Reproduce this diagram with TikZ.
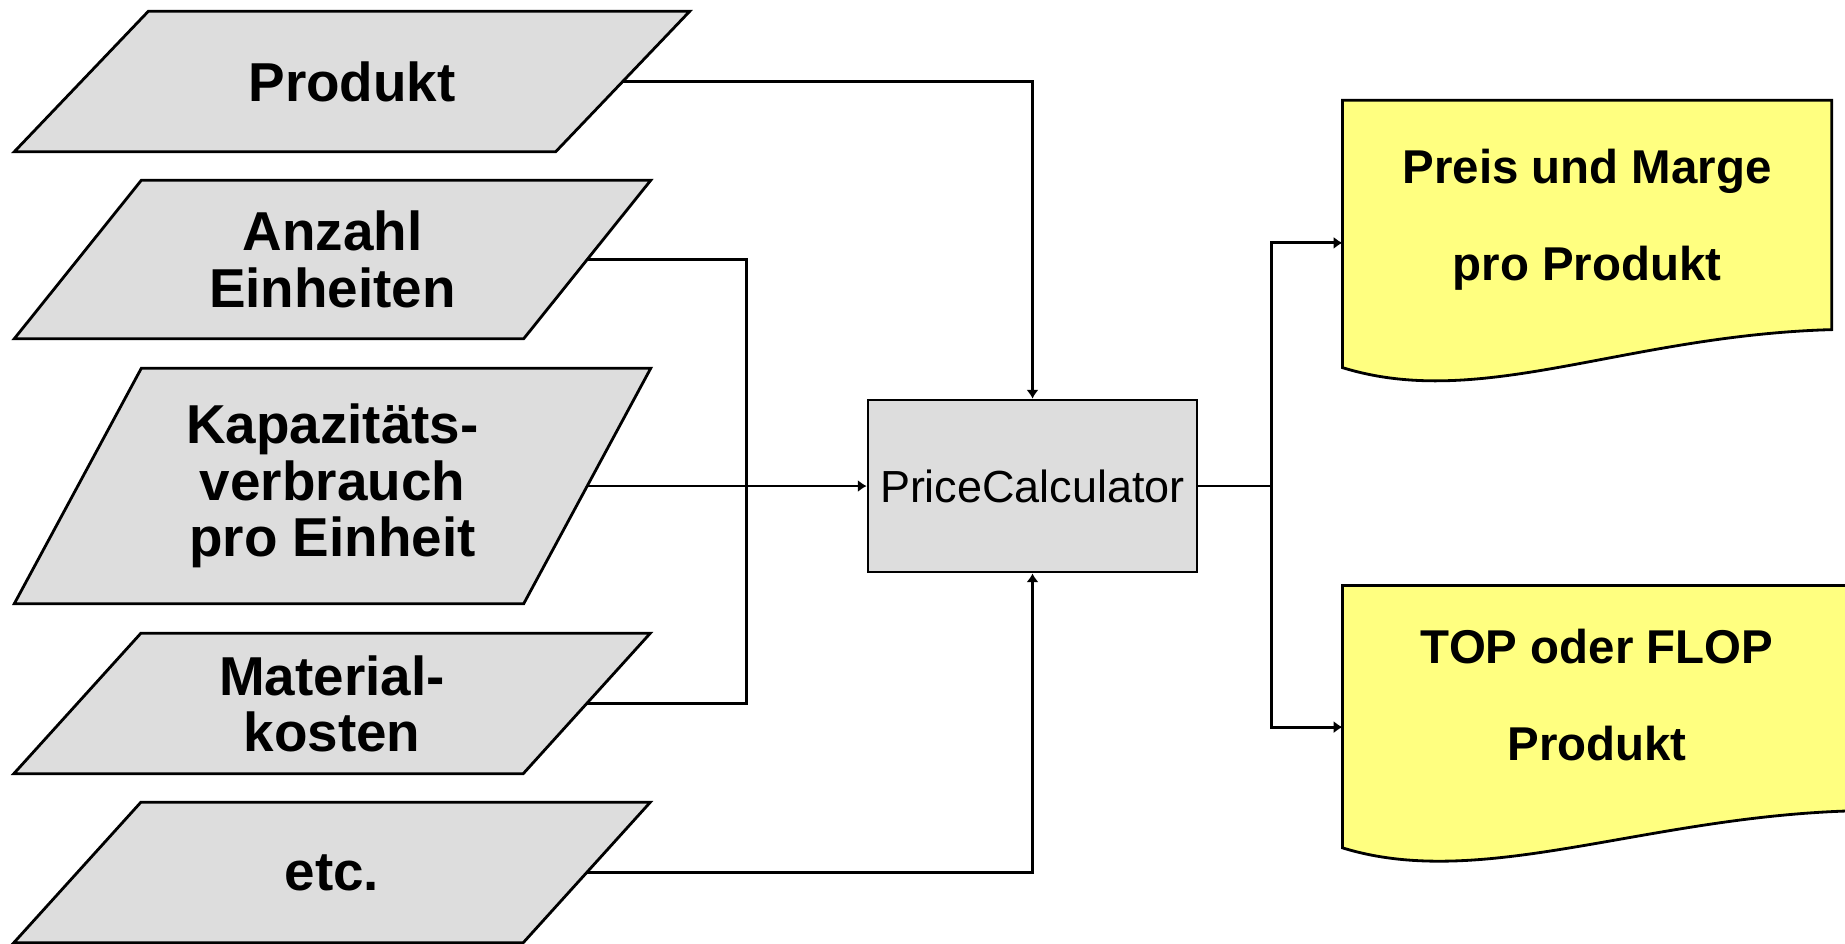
\documentclass[tikz,border=0pt]{standalone}
\usepackage{fontspec}
\setmainfont{Liberation Sans}
\usetikzlibrary{arrows.meta, positioning, backgrounds}
\definecolor{inputgray}{HTML}{DDDDDD}
\definecolor{docyellow}{HTML}{FFFF80}

\begin{document}
\begin{tikzpicture}[
    input/.style={
        rectangle, inner sep=0pt, minimum width=5.08cm,
        align=center, font=\fontsize{15.6}{16}\selectfont\bfseries
    },
    proc/.style={
        rectangle, draw, line width=0.8pt, fill=inputgray,
        minimum width=3.29cm, minimum height=1.72cm,
        font=\fontsize{12.8}{15}\selectfont
    },
    doc/.style={
        rectangle, minimum width=4.88cm, minimum height=2.38cm,
        align=center, font=\fontsize{13.5}{27.5}\selectfont\bfseries
    },
    arr/.style={-{Latex[length=2.5pt,width=3.5pt]}, line width=0.8pt},
    conn/.style={line width=0.8pt},
]
\useasboundingbox (0,0) rectangle (18.45,-9.43);

% ── Inputs ────────────────────────────
\node[input, minimum width=5.40cm, minimum height=1.39cm] (prod) at (3.52,-0.815) {Produkt};
\node[input, minimum height=1.57cm] (anz) at (3.325,-2.595) {Anzahl\\Einheiten};
\node[input, minimum height=2.34cm] (kap) at (3.325,-4.86) {Kapazitäts-\\verbrauch\\pro Einheit};
\node[input, minimum height=1.39cm] (mat) at (3.32,-7.035) {Material-\\kosten};
\node[input, minimum height=1.39cm] (etc) at (3.32,-8.725) {etc.};

% ── Calculator ────────────────────────
\node[proc] (pc) at (10.325,-4.86) {PriceCalculator};

% ── Outputs ───────────────────────────
\node[doc, above right=0.59cm and 1.44cm of pc] (out1) {Preis und Marge\\pro Produkt};
\node[doc, minimum width=5.08cm, minimum height=2.18cm,
      below right=0.12cm and 1.44cm of pc] (out2) {TOP oder FLOP\\Produkt};

% ── Shapes behind the texts ──────
\begin{scope}[on background layer]
\foreach \n/\s in {prod/0.67, anz/0.635, kap/0.635, mat/0.635, etc/0.635}
  \filldraw[fill=inputgray, line width=0.8pt]
    ([xshift=-\s cm]\n.south west) -- ([xshift=-\s cm]\n.south east)
    -- ([xshift=\s cm]\n.north east) -- ([xshift=\s cm]\n.north west) -- cycle;
\foreach \d/\r/\l in {out1/0.10/-0.28, out2/-0.06/-0.43} {
  \path ([yshift=\r cm]\d.south east) coordinate (re)
        ([yshift=\l cm]\d.south west) coordinate (le);
  \filldraw[fill=docyellow, line width=0.8pt]
    (\d.north west) -- (\d.north east) -- (re)
    .. controls ([shift={(-2.09,-0.06)}]re) and ([shift={(1.39,-0.43)}]le) .. (le) -- cycle;
}
\end{scope}

% ── Inputs → Calculator ──────
\coordinate (bus) at ([xshift=-1.20cm]pc.west);
\draw[arr] (prod.east) -| (pc.north);
\draw[conn] (anz.east) -| (bus);
\draw[conn] (mat.east) -| (bus);
\draw[arr] (kap.east) -- (pc.west);
\draw[arr] (etc.east) -| (pc.south);

% ── Calculator → Outputs ──────
\coordinate[right=0.73cm of pc] (split);
\draw[conn] (pc.east) -- (split);
\draw[arr] (split) |- ([yshift=-0.23cm]out1.west);
\draw[arr] (split) |- ([yshift=-0.32cm]out2.west);

\end{tikzpicture}
\end{document}
